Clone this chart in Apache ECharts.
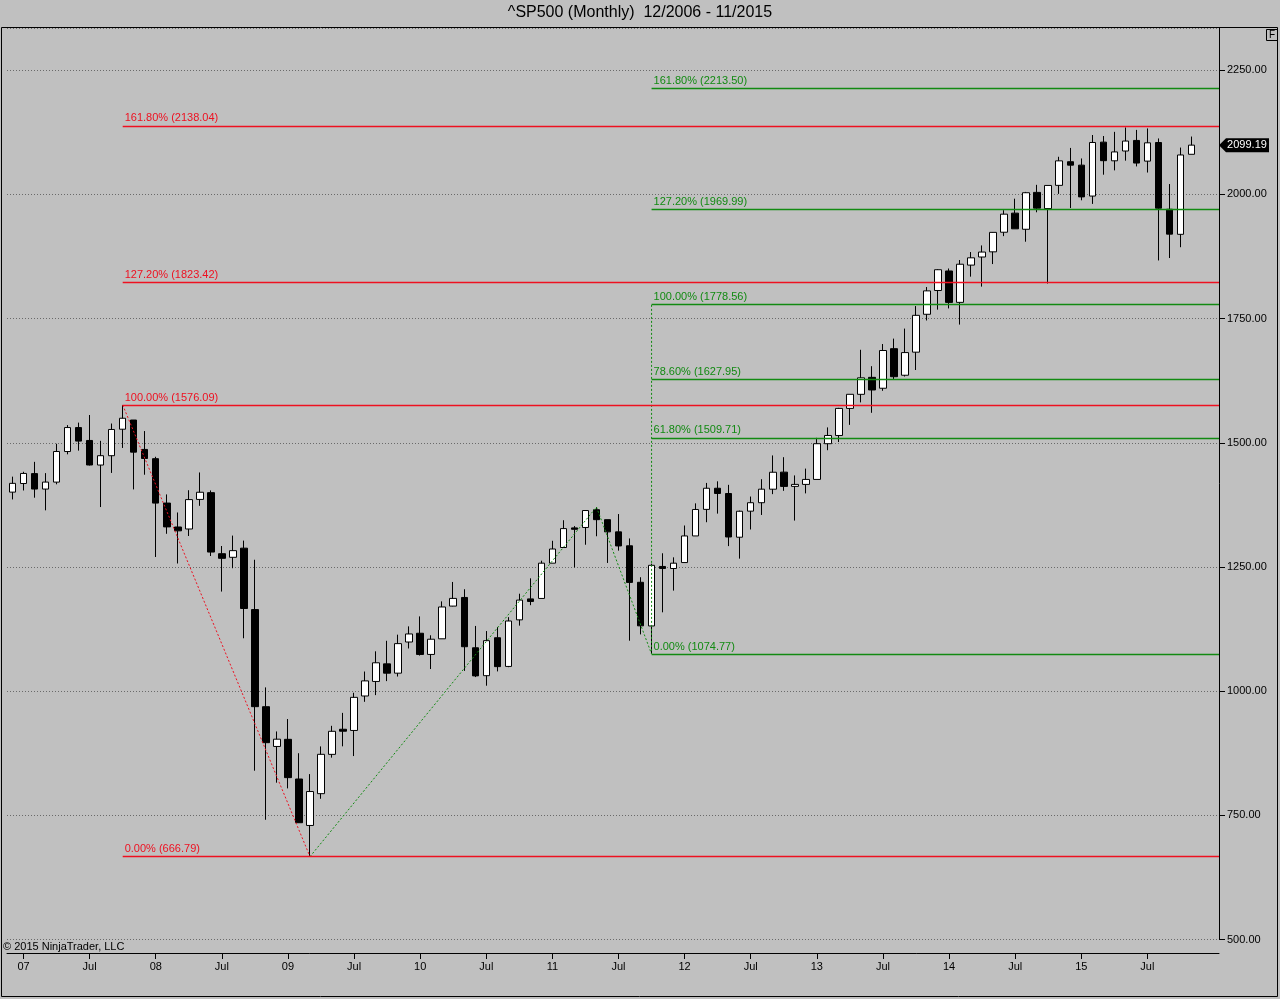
<!DOCTYPE html>
<html>
<head>
<meta charset="utf-8">
<title>^SP500 (Monthly)</title>
<script src="https://cdn.jsdelivr.net/npm/echarts@6/dist/echarts.min.js"></script>
<style>
  html, body { margin: 0; padding: 0; background: #c0c0c0; }
  #chart { width: 1280px; height: 999px; }
</style>
</head>
<body>
<div id="chart"></div>
<script>
// months (the last two are empty slots on the right side of the chart)
var months = [
  '2006-12',
  '2007-01','2007-02','2007-03','2007-04','2007-05','2007-06','2007-07','2007-08','2007-09','2007-10','2007-11','2007-12',
  '2008-01','2008-02','2008-03','2008-04','2008-05','2008-06','2008-07','2008-08','2008-09','2008-10','2008-11','2008-12',
  '2009-01','2009-02','2009-03','2009-04','2009-05','2009-06','2009-07','2009-08','2009-09','2009-10','2009-11','2009-12',
  '2010-01','2010-02','2010-03','2010-04','2010-05','2010-06','2010-07','2010-08','2010-09','2010-10','2010-11','2010-12',
  '2011-01','2011-02','2011-03','2011-04','2011-05','2011-06','2011-07','2011-08','2011-09','2011-10','2011-11','2011-12',
  '2012-01','2012-02','2012-03','2012-04','2012-05','2012-06','2012-07','2012-08','2012-09','2012-10','2012-11','2012-12',
  '2013-01','2013-02','2013-03','2013-04','2013-05','2013-06','2013-07','2013-08','2013-09','2013-10','2013-11','2013-12',
  '2014-01','2014-02','2014-03','2014-04','2014-05','2014-06','2014-07','2014-08','2014-09','2014-10','2014-11','2014-12',
  '2015-01','2015-02','2015-03','2015-04','2015-05','2015-06','2015-07','2015-08','2015-09','2015-10','2015-11',
  '2015-12','2016-01'
];

var opens = [
  1400.63,
  1418.03, 1437.90, 1406.80, 1420.83, 1482.37, 1530.62, 1504.66, 1455.18, 1473.96, 1527.29, 1545.79, 1486.59,
  1467.97, 1378.60, 1330.45, 1326.41, 1385.97, 1399.62, 1276.69, 1269.42, 1287.83, 1164.17, 968.67, 888.61,
  902.99, 823.09, 729.57, 793.59, 872.74, 923.26, 920.82, 990.22, 1019.52, 1054.91, 1036.18, 1098.89,
  1116.56, 1073.89, 1105.36, 1171.23, 1188.58, 1087.30, 1031.10, 1107.53, 1049.72, 1143.49, 1185.71, 1186.60,
  1257.62, 1289.14, 1328.64, 1329.48, 1365.21, 1345.20, 1320.64, 1292.59, 1219.12, 1131.21, 1251.00, 1246.91,
  1258.86, 1312.45, 1365.90, 1408.47, 1397.86, 1309.87, 1362.33, 1379.32, 1406.54, 1440.90, 1412.20, 1416.18,
  1426.19, 1498.11, 1514.68, 1569.18, 1597.55, 1631.71, 1609.78, 1689.42, 1635.95, 1682.41, 1758.70, 1806.55,
  1845.86, 1782.68, 1857.68, 1873.96, 1884.39, 1923.87, 1962.29, 1929.80, 2004.07, 1971.44, 2018.21, 2065.78,
  2058.90, 1996.67, 2105.23, 2067.63, 2087.38, 2108.64, 2067.00, 2104.49, 1970.09, 1919.65, 2080.76
];
var highs = [
  1431.81,
  1441.61, 1461.57, 1438.89, 1498.02, 1535.56, 1540.56, 1555.90, 1503.89, 1538.74, 1576.09, 1545.79, 1523.57,
  1471.77, 1396.02, 1359.68, 1404.45, 1440.24, 1404.05, 1292.17, 1313.15, 1303.04, 1264.47, 1007.51, 918.85,
  943.85, 875.01, 832.98, 888.70, 930.17, 956.23, 996.68, 1039.47, 1080.15, 1101.36, 1113.69, 1130.38,
  1150.45, 1112.42, 1180.69, 1219.80, 1205.13, 1131.23, 1120.95, 1129.24, 1148.90, 1196.14, 1227.08, 1262.60,
  1302.67, 1344.07, 1332.28, 1364.56, 1370.58, 1345.20, 1356.48, 1307.38, 1229.29, 1256.55, 1277.55, 1269.37,
  1333.47, 1378.04, 1419.15, 1422.38, 1415.32, 1363.46, 1391.74, 1426.68, 1474.51, 1470.96, 1434.27, 1448.00,
  1509.94, 1530.94, 1570.28, 1597.57, 1687.18, 1654.19, 1698.78, 1709.67, 1729.86, 1775.22, 1813.55, 1849.44,
  1850.84, 1867.92, 1883.97, 1897.28, 1924.03, 1968.17, 1991.39, 2005.04, 2019.26, 2018.19, 2075.76, 2093.55,
  2072.36, 2119.59, 2117.52, 2125.92, 2134.72, 2129.87, 2132.82, 2112.66, 2020.86, 2094.32, 2116.48
];
var lows = [
  1385.93,
  1403.97, 1389.42, 1363.98, 1416.37, 1476.70, 1484.18, 1454.25, 1370.60, 1439.29, 1489.56, 1406.10, 1435.65,
  1270.05, 1316.75, 1256.98, 1312.32, 1373.07, 1272.00, 1200.44, 1247.45, 1106.42, 839.80, 741.02, 815.69,
  804.22, 734.52, 666.79, 783.32, 866.10, 888.86, 869.32, 978.51, 991.97, 1020.18, 1029.38, 1085.89,
  1071.59, 1044.50, 1105.36, 1170.69, 1040.78, 1028.33, 1010.91, 1039.70, 1048.18, 1131.87, 1173.00, 1186.60,
  1257.62, 1289.14, 1249.05, 1294.70, 1311.80, 1258.07, 1282.86, 1101.54, 1114.22, 1074.77, 1158.66, 1202.37,
  1258.86, 1312.45, 1340.03, 1357.38, 1291.98, 1266.74, 1325.41, 1354.65, 1396.56, 1403.28, 1343.35, 1398.11,
  1426.19, 1485.01, 1501.48, 1536.03, 1581.28, 1560.33, 1604.57, 1627.47, 1633.41, 1646.47, 1746.20, 1767.99,
  1770.45, 1737.92, 1834.44, 1814.36, 1859.79, 1915.98, 1930.67, 1904.78, 1964.04, 1820.66, 2001.01, 1972.56,
  1988.12, 1980.90, 2039.69, 2048.38, 2067.93, 2056.32, 2044.02, 1867.01, 1871.91, 1893.70, 2080.76
];
var closes = [
  1418.30,
  1438.24, 1406.82, 1420.86, 1482.37, 1530.62, 1503.35, 1455.27, 1473.99, 1526.75, 1549.38, 1481.14, 1468.36,
  1378.55, 1330.63, 1322.70, 1385.59, 1400.38, 1280.00, 1267.38, 1282.83, 1166.36, 968.75, 896.24, 903.25,
  825.88, 735.09, 797.87, 872.81, 919.14, 919.32, 987.48, 1020.62, 1057.08, 1036.19, 1095.63, 1115.10,
  1073.87, 1104.49, 1169.43, 1186.69, 1089.41, 1030.71, 1101.60, 1049.33, 1141.20, 1183.26, 1180.55, 1257.64,
  1286.12, 1327.22, 1325.83, 1363.61, 1345.20, 1320.64, 1292.28, 1218.89, 1131.42, 1253.30, 1246.96, 1257.60,
  1312.41, 1365.68, 1408.47, 1397.91, 1310.33, 1362.16, 1379.32, 1406.58, 1440.67, 1412.16, 1416.18, 1426.19,
  1498.11, 1514.68, 1569.19, 1597.57, 1630.74, 1606.28, 1685.73, 1632.97, 1681.55, 1756.54, 1805.81, 1848.36,
  1782.59, 1859.45, 1872.34, 1883.95, 1923.57, 1960.23, 1930.67, 2003.37, 1972.29, 2018.05, 2067.56, 2058.90,
  1994.99, 2104.50, 2067.89, 2085.51, 2107.39, 2063.11, 2103.84, 1972.18, 1920.03, 2079.36, 2099.19
];

// swing points used by the two Fibonacci tools
var redSwing = [['2007-10', 1576.09], ['2009-03', 666.79]];
var greenSwing = [['2009-03', 666.79], ['2011-05', 1370.58], ['2011-10', 1074.77], ['2011-10', 1778.56]];

// Fibonacci levels (label, price)
var redFibStart = '2007-10';
var redFibPct = ['0.00%', '100.00%', '127.20%', '161.80%'];
var redFibVal = [666.79, 1576.09, 1823.42, 2138.04];
var greenFibStart = '2011-10';
var greenFibPct = ['0.00%', '61.80%', '78.60%', '100.00%', '127.20%', '161.80%'];
var greenFibVal = [1074.77, 1509.71, 1627.95, 1778.56, 1969.99, 2213.50];

// y axis tick values
var yMin = 500, yMax = 2335, yStep = 250;

var FONT = 'Liberation Sans, Arial, sans-serif';
var RED = '#ee1020';
var GREEN = '#128a12';

var candles = opens.map(function (o, i) {
  return [o, closes[i], lows[i], highs[i]];
});
var xEnd = months.length - 0.5;
var lastClose = closes[closes.length - 1];

function isTickMonth(i, v) {
  if (i >= opens.length) return false;
  var m = v.slice(5);
  return m === '01' || m === '07';
}
function tickLabel(v) {
  var m = v.slice(5);
  if (m === '01') return v.slice(2, 4);
  if (m === '07') return 'Jul';
  return '';
}

function fibLines(start, pcts, vals) {
  var i0 = months.indexOf(start);
  return pcts.map(function (p, k) {
    return [
      { coord: [i0, vals[k]], label: { formatter: p + ' (' + vals[k].toFixed(2) + ')' } },
      { coord: [xEnd, vals[k]] }
    ];
  });
}

var chart = echarts.init(document.getElementById('chart'));
var option = {
  animation: false,
  backgroundColor: '#c0c0c0',
  textStyle: { fontFamily: FONT },
  title: [
    {
      text: '^SP500 (Monthly)  12/2006 - 11/2015',
      left: 'center', top: 5, padding: 0,
      textStyle: { fontSize: 16, fontWeight: 'normal', color: '#000', fontFamily: FONT }
    },
    {
      text: '\u00a9 2015 NinjaTrader, LLC',
      left: 3, top: 941, padding: 0,
      textStyle: { fontSize: 11, fontWeight: 'normal', color: '#000', fontFamily: FONT }
    }
  ],
  grid: { left: 7, right: 61, top: 28, bottom: 59.5, containLabel: false, outerBoundsMode: 'none' },
  xAxis: [
    {
      type: 'category',
      data: months,
      boundaryGap: true,
      offset: 13.5,
      axisLine: { show: true, onZero: false, lineStyle: { color: '#000', width: 1 } },
      axisTick: { show: true, interval: isTickMonth, alignWithLabel: true, length: 6, lineStyle: { color: '#000' } },
      axisLabel: { interval: isTickMonth, formatter: tickLabel, color: '#000', fontSize: 11, margin: 8, fontFamily: FONT },
      splitLine: { show: false }
    },
    {
      type: 'value', min: -0.5, max: xEnd, show: false,
      axisLine: { show: false, onZero: false }, splitLine: { show: false }
    }
  ],
  yAxis: {
    type: 'value',
    position: 'right',
    min: yMin, max: yMax, interval: yStep,
    axisLine: { show: true, onZero: false, lineStyle: { color: '#000', width: 1 } },
    axisTick: { show: true, length: 6, lineStyle: { color: '#000' } },
    axisLabel: {
      color: '#000', fontSize: 11, margin: 8, showMaxLabel: false, fontFamily: FONT,
      formatter: function (v) { return v.toFixed(2); }
    },
    splitLine: { show: true, lineStyle: { color: '#6a6a6a', width: 1, type: [1, 2] } }
  },
  series: [
    {
      type: 'candlestick',
      name: '^SP500',
      xAxisIndex: 0,
      data: candles,
      barWidth: 7,
      itemStyle: { color: '#ffffff', color0: '#000000', borderColor: '#000000', borderColor0: '#000000', borderWidth: 1 },
      z: 2
    },
    {
      type: 'line', name: 'red swing', xAxisIndex: 0, data: redSwing,
      symbol: 'none', silent: true, z: 4,
      lineStyle: { color: RED, width: 1, type: [2, 2] }
    },
    {
      type: 'line', name: 'green swing', xAxisIndex: 0, data: greenSwing,
      symbol: 'none', silent: true, z: 4,
      lineStyle: { color: GREEN, width: 1, type: [2, 2] }
    },
    {
      type: 'line', name: 'red fib', xAxisIndex: 1, data: [], z: 5,
      markLine: {
        silent: true, symbol: ['none', 'none'], animation: false,
        lineStyle: { color: RED, width: 1.4, type: 'solid' },
        label: { show: true, position: 'insideStartTop', distance: [2, 2], color: RED, fontSize: 11, fontFamily: FONT },
        emphasis: { disabled: true },
        data: fibLines(redFibStart, redFibPct, redFibVal)
      }
    },
    {
      type: 'line', name: 'green fib', xAxisIndex: 1, data: [], z: 5,
      markLine: {
        silent: true, symbol: ['none', 'none'], animation: false,
        lineStyle: { color: GREEN, width: 1.4, type: 'solid' },
        label: { show: true, position: 'insideStartTop', distance: [2, 2], color: GREEN, fontSize: 11, fontFamily: FONT },
        emphasis: { disabled: true },
        data: fibLines(greenFibStart, greenFibPct, greenFibVal)
      }
    },
    {
      type: 'scatter', name: 'last', xAxisIndex: 1, data: [], z: 6,
      markPoint: {
        silent: true, animation: false,
        symbol: 'path://M0,7L7,0L50,0L50,14L7,14Z',
        symbolSize: [50, 14],
        symbolKeepAspect: false,
        symbolOffset: ['50%', 0],
        itemStyle: { color: '#000' },
        label: {
          show: true, position: 'inside', color: '#fff', fontSize: 11, offset: [3, 0], fontFamily: FONT,
          formatter: function (p) { return p.value.toFixed(2); }
        },
        data: [{ coord: [xEnd, lastClose], value: lastClose }]
      }
    }
  ],
  graphic: [
    {
      type: 'rect', silent: true, z: 100,
      shape: { x: 1.5, y: 27.5, width: 1276, height: 969 },
      style: { fill: 'none', stroke: '#000', lineWidth: 1 }
    },
    {
      type: 'rect', silent: true, z: 100,
      shape: { x: 1266.5, y: 29.5, width: 11, height: 11 },
      style: { fill: 'none', stroke: '#000', lineWidth: 1 }
    },
    {
      type: 'text', silent: true, z: 100, x: 1269, y: 30,
      style: { text: 'F', font: '10px ' + FONT, fill: '#000' }
    }
  ]
};
chart.setOption(option);
</script>
</body>
</html>
